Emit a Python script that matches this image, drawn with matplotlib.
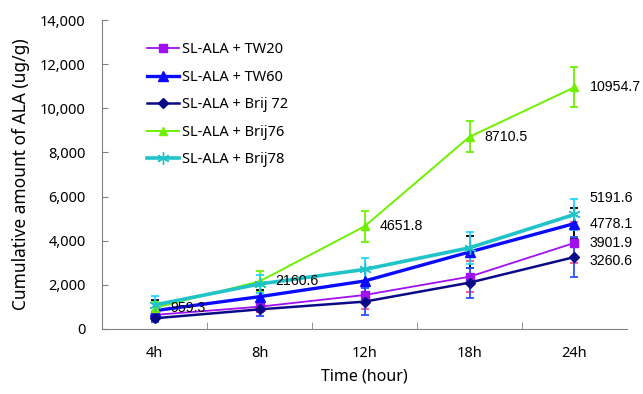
import numpy as np
import matplotlib.pyplot as plt

times = ['4h', '8h', '12h', '18h', '24h']
names = ['SL-ALA + TW20', 'SL-ALA + TW60', 'SL-ALA + Brij 72', 'SL-ALA + Brij76', 'SL-ALA + Brij78']

tw20 = [640, 1010, 1540, 2370, 3901.9]
tw60 = [830, 1465, 2175, 3490, 4778.1]
brij72 = [485, 890, 1240, 2100, 3260.6]
brij76 = [959.3, 2160.6, 4651.8, 8710.5, 10954.7]
brij78 = [1090, 2040, 2700, 3680, 5191.6]

tw20_err = [150, 250, 650, 700, 930]
tw60_err = [480, 300, 500, 740, 720]
brij72_err = [150, 300, 600, 680, 920]
brij76_err = [250, 470, 690, 700, 900]
brij78_err = [400, 400, 530, 730, 690]

plt.rcParams['font.family'] = ['Noto Sans', 'DejaVu Sans']

fig = plt.figure(figsize=(6.43, 3.94), dpi=100)
ax = fig.add_axes([0.159, 0.165, 0.816, 0.784])

x = np.arange(len(times))

# (values, errors, line colour, error colour, marker, marker size, line width)
series = [
    (tw20, tw20_err, '#a010f0', '#ff4f7f', 's', 6, 1.3),
    (tw60, tw60_err, '#0a0aff', 'black', '^', 7, 2.4),
    (brij72, brij72_err, '#0a0a88', '#2a50ff', 'D', 5, 1.8),
    (brij76, brij76_err, '#6ef000', '#6ef000', '^', 6, 1.4),
    (brij78, brij78_err, '#20c4c8', '#20d4ff', (6, 2, 0), 9, 2.6),
]

for (vals, err, col, ecol, mk, ms, lw), name in zip(series, names):
    ax.errorbar(x, vals, yerr=err, fmt='none', ecolor=ecol, elinewidth=1.3,
                capsize=3, capthick=1.3, zorder=2)
    ax.plot(x, vals, color=col, marker=mk, markersize=ms, linewidth=lw,
            markeredgecolor=col, label=name, zorder=3)

# data labels
for i, v in enumerate(brij76):
    ax.annotate(f'{v}', (x[i], v), xytext=(11, 0), textcoords='offset points',
                va='center', ha='left', fontsize=10.2, family='Liberation Sans', zorder=5)
last = [(brij78[-1], 12), (tw60[-1], 0), (tw20[-1], 0), (brij72[-1], -3)]
for v, dy in last:
    ax.annotate(f'{v}', (x[-1], v), xytext=(11, dy), textcoords='offset points',
                va='center', ha='left', fontsize=10.2, family='Liberation Sans', zorder=5)

ax.set_xlim(-0.5, len(times) - 0.5)
ax.set_ylim(0, 14000)
ax.set_yticks(np.arange(0, 14001, 2000))
ax.yaxis.set_major_formatter(plt.FuncFormatter(lambda v, p: f'{int(v):,}'))
ax.set_xticks(x)
ax.set_xticklabels(times)
ax.set_xticks(np.arange(0.5, len(times) - 0.5, 1), minor=True)
ax.tick_params(axis='x', which='major', length=0, pad=12, labelsize=10.5)
ax.tick_params(axis='x', which='minor', direction='in', length=5, color='#808080')
ax.tick_params(axis='y', direction='in', length=4, color='#808080', labelsize=10.5, pad=12)

for s in ['top', 'right']:
    ax.spines[s].set_visible(False)
for s in ['left', 'bottom']:
    ax.spines[s].set_color('#808080')

ax.set_xlabel('Time (hour)', fontsize=11.5, labelpad=6)
ax.set_ylabel('Cumulative amount of ALA (ug/g)', fontsize=12.5, labelpad=7)

ax.legend(loc='upper left', bbox_to_anchor=(0.06, 0.97), frameon=False, fontsize=10.5,
          handlelength=2.2, handletextpad=0.2, labelspacing=0.85)

plt.savefig('out.png', dpi=100)
